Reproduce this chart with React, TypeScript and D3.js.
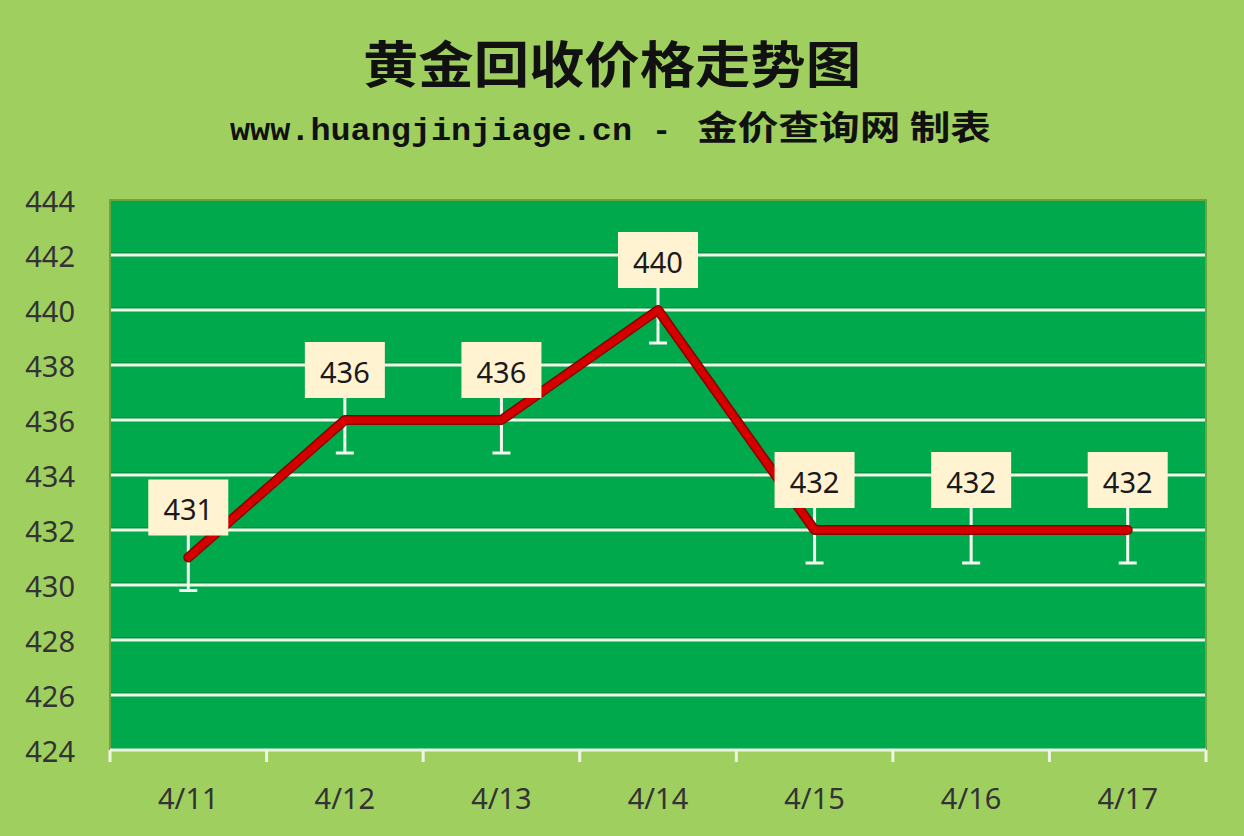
import React from "react";
import * as d3 from "d3";

const categories = ["4/11", "4/12", "4/13", "4/14", "4/15", "4/16", "4/17"];
const prices = [431, 436, 436, 440, 432, 432, 432];
const errorAmount = 1.2;
const yTicks = [424, 426, 428, 430, 432, 434, 436, 438, 440, 442, 444];
const title = "黄金回收价格走势图";
const subtitleLatin = "www.huangjinjiage.cn";
const subtitleCJK = "金价查询网 制表";

const W = 1244;
const H = 836;
const plot = { left: 110, right: 1206, top: 200, bottom: 750 };

export default function App() {
  const x = d3
    .scaleBand<string>()
    .domain(categories)
    .range([plot.left, plot.right])
    .paddingInner(0)
    .paddingOuter(0);
  const y = d3.scaleLinear().domain([424, 444]).range([plot.bottom, plot.top]);
  const cx = (c: string) => (x(c) as number) + x.bandwidth() / 2;

  const line = d3
    .line<number>()
    .x((_, i) => cx(categories[i]))
    .y((d) => y(d));

  const boundaries = d3.range(categories.length + 1).map((i) => plot.left + i * x.bandwidth());
  const num = "'Noto Sans', 'Open Sans', sans-serif";
  const boxW = 80;
  const boxH = 56;
  const boxGap = 22;

  return (
    <svg
      width={W}
      height={H}
      style={{ position: "fixed", left: 0, top: 0 }}
      xmlns="http://www.w3.org/2000/svg"
    >
      <rect x={0} y={0} width={W} height={H} fill="#9fcf5f" />
      <text
        x={612}
        y={83}
        textAnchor="middle"
        fontFamily="'Noto Sans CJK SC', sans-serif"
        fontWeight={700}
        fontSize={50}
        fill="#111"
        textLength={498}
        lengthAdjust="spacingAndGlyphs"
      >
        {title}
      </text>
      <text y={140} fill="#111" fontWeight={700}>
        <tspan
          x={230}
          fontFamily="'Liberation Mono', 'DejaVu Sans Mono', monospace"
          fontSize={32}
          textLength={402}
          lengthAdjust="spacingAndGlyphs"
        >
          {subtitleLatin}
        </tspan>
        <tspan x={652} fontFamily="'Liberation Mono', monospace" fontSize={32}>
          -
        </tspan>
        <tspan
          x={697}
          fontFamily="'Noto Sans CJK SC', sans-serif"
          fontSize={34}
          textLength={294}
          lengthAdjust="spacingAndGlyphs"
        >
          {subtitleCJK}
        </tspan>
      </text>

      {/* plot area */}
      <rect
        x={plot.left}
        y={plot.top}
        width={plot.right - plot.left}
        height={plot.bottom - plot.top}
        fill="#00aa4c"
        stroke="#6aa640"
        strokeWidth={2}
      />
      {yTicks.slice(1, -1).map((t) => (
        <g key={t}>
          <line x1={plot.left + 1} x2={plot.right - 1} y1={y(t) - 2} y2={y(t) - 2} stroke="#0b7d3a" strokeWidth={1.2} />
          <line x1={plot.left + 1} x2={plot.right - 1} y1={y(t)} y2={y(t)} stroke="#eef7e6" strokeWidth={3} />
        </g>
      ))}
      {/* x axis */}
      <line x1={plot.left} x2={plot.right} y1={plot.bottom} y2={plot.bottom} stroke="#eef5e4" strokeWidth={3} />
      {boundaries.map((b, i) => (
        <line key={i} x1={b} x2={b} y1={plot.bottom} y2={plot.bottom + 12} stroke="#eef5e4" strokeWidth={3} />
      ))}
      {yTicks.map((t) => (
        <text
          key={t}
          x={75}
          y={y(t)}
          textAnchor="end"
          dominantBaseline="central"
          fontFamily={num}
          fontSize={29}
          fill="#333"
        >
          {t}
        </text>
      ))}
      {categories.map((c) => (
        <text
          key={c}
          x={cx(c)}
          y={797}
          textAnchor="middle"
          dominantBaseline="central"
          fontFamily={num}
          fontSize={29}
          fill="#333"
        >
          {c}
        </text>
      ))}

      {/* error bars */}
      {prices.map((p, i) => {
        const px = cx(categories[i]);
        const lo = y(p - errorAmount);
        const hi = y(p + errorAmount);
        return (
          <g key={i} stroke="#f4f8f0" strokeWidth={3}>
            <line x1={px} x2={px} y1={hi} y2={lo} />
            <line x1={px - 9} x2={px + 9} y1={lo} y2={lo} />
            <line x1={px - 9} x2={px + 9} y1={hi} y2={hi} />
          </g>
        );
      })}

      <path d={line(prices) || ""} fill="none" stroke="#8a0000" strokeWidth={10} strokeLinejoin="round" strokeLinecap="round" />
      <path d={line(prices) || ""} fill="none" stroke="#d40000" strokeWidth={7} strokeLinejoin="round" strokeLinecap="round" />

      {prices.map((p, i) => {
        const px = cx(categories[i]);
        const by = y(p) - boxGap - boxH;
        return (
          <g key={i}>
            <rect x={px - boxW / 2} y={by} width={boxW} height={boxH} fill="#fff3d2" />
            <text
              x={px}
              y={by + boxH / 2 + 1}
              textAnchor="middle"
              dominantBaseline="central"
              fontFamily={num}
              fontSize={29}
              fill="#1a1a1a"
            >
              {p}
            </text>
          </g>
        );
      })}
    </svg>
  );
}
